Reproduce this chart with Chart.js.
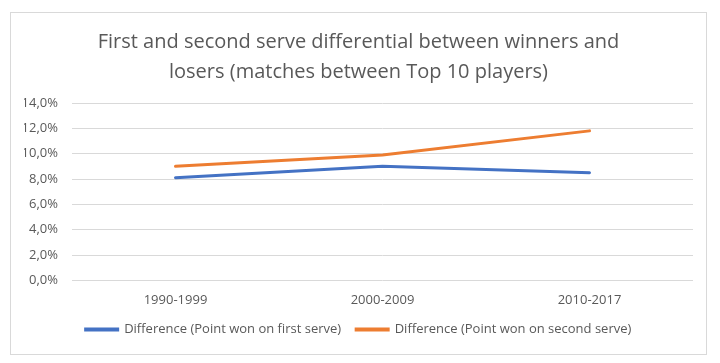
<!DOCTYPE html>
<html lang="en">
<head>
    <meta charset="UTF-8">
    <title>Serve differential</title>
    <script src="https://cdn.jsdelivr.net/npm/chart.js"></script>
    <style>
        html, body { margin: 0; padding: 0; background: #fff; }
        body { width: 720px; height: 363px; position: relative; overflow: hidden; }
        .chart-box {
            position: absolute; left: 10px; top: 12px;
            width: 695px; height: 341px;
            border: 1px solid #d9d9d9;
        }
    </style>
</head>
<body>
    <div class="chart-box">
        <canvas id="serveChart"></canvas>
    </div>

    <script>
        const periods = ['1990-1999', '2000-2009', '2010-2017'];
        const firstServeDiff = [8.1, 9.0, 8.5];
        const secondServeDiff = [9.0, 9.9, 11.8];
        const titleLines = ['First and second serve differential between winners and', 'losers (matches between Top 10 players)'];

        const textColor = '#595959';
        const gridColor = '#d9d9d9';
        Chart.defaults.font.family = '"Open Sans", sans-serif';
        Chart.defaults.color = textColor;

        const ctx = document.getElementById('serveChart').getContext('2d');
        new Chart(ctx, {
            type: 'line',
            data: {
                labels: periods,
                datasets: [{
                    label: 'Difference (Point won on first serve)',
                    data: firstServeDiff,
                    borderColor: '#4472c4',
                    backgroundColor: '#4472c4',
                    borderWidth: 3,
                    pointRadius: 0,
                    borderCapStyle: 'round',
                    fill: false,
                }, {
                    label: 'Difference (Point won on second serve)',
                    data: secondServeDiff,
                    borderColor: '#ed7d31',
                    backgroundColor: '#ed7d31',
                    borderWidth: 3,
                    pointRadius: 0,
                    borderCapStyle: 'round',
                    fill: false,
                }]
            },
            options: {
                responsive: true,
                maintainAspectRatio: false,
                animation: false,
                layout: { padding: { left: 13, right: 13, top: 0, bottom: 8 } },
                plugins: {
                    title: {
                        display: true,
                        text: titleLines,
                        color: textColor,
                        font: { size: 20, weight: 'normal', lineHeight: 1.5 },
                        padding: { top: 14, bottom: 16 },
                    },
                    legend: {
                        position: 'bottom',
                        labels: {
                            boxWidth: 32,
                            boxHeight: 1,
                            padding: 15,
                            font: { size: 13 },
                            color: textColor,
                        }
                    },
                    tooltip: { enabled: false },
                },
                scales: {
                    x: {
                        offset: true,
                        // invisible tick marks keep the label gap below the plot
                        grid: { color: 'transparent', drawOnChartArea: false, drawTicks: true, tickLength: 12 },
                        border: { display: false },
                        ticks: { font: { size: 13 }, color: textColor, padding: 0 },
                    },
                    y: {
                        min: 0,
                        max: 14,
                        grid: { color: gridColor, drawTicks: false },
                        border: { display: false },
                        afterFit: scale => { scale.width = 48; },
                        ticks: {
                            stepSize: 2,
                            padding: 14,
                            font: { size: 13 },
                            color: textColor,
                            callback: v => v.toFixed(1).replace('.', ',') + '%',
                        },
                    }
                }
            }
        });
    </script>
</body>
</html>
